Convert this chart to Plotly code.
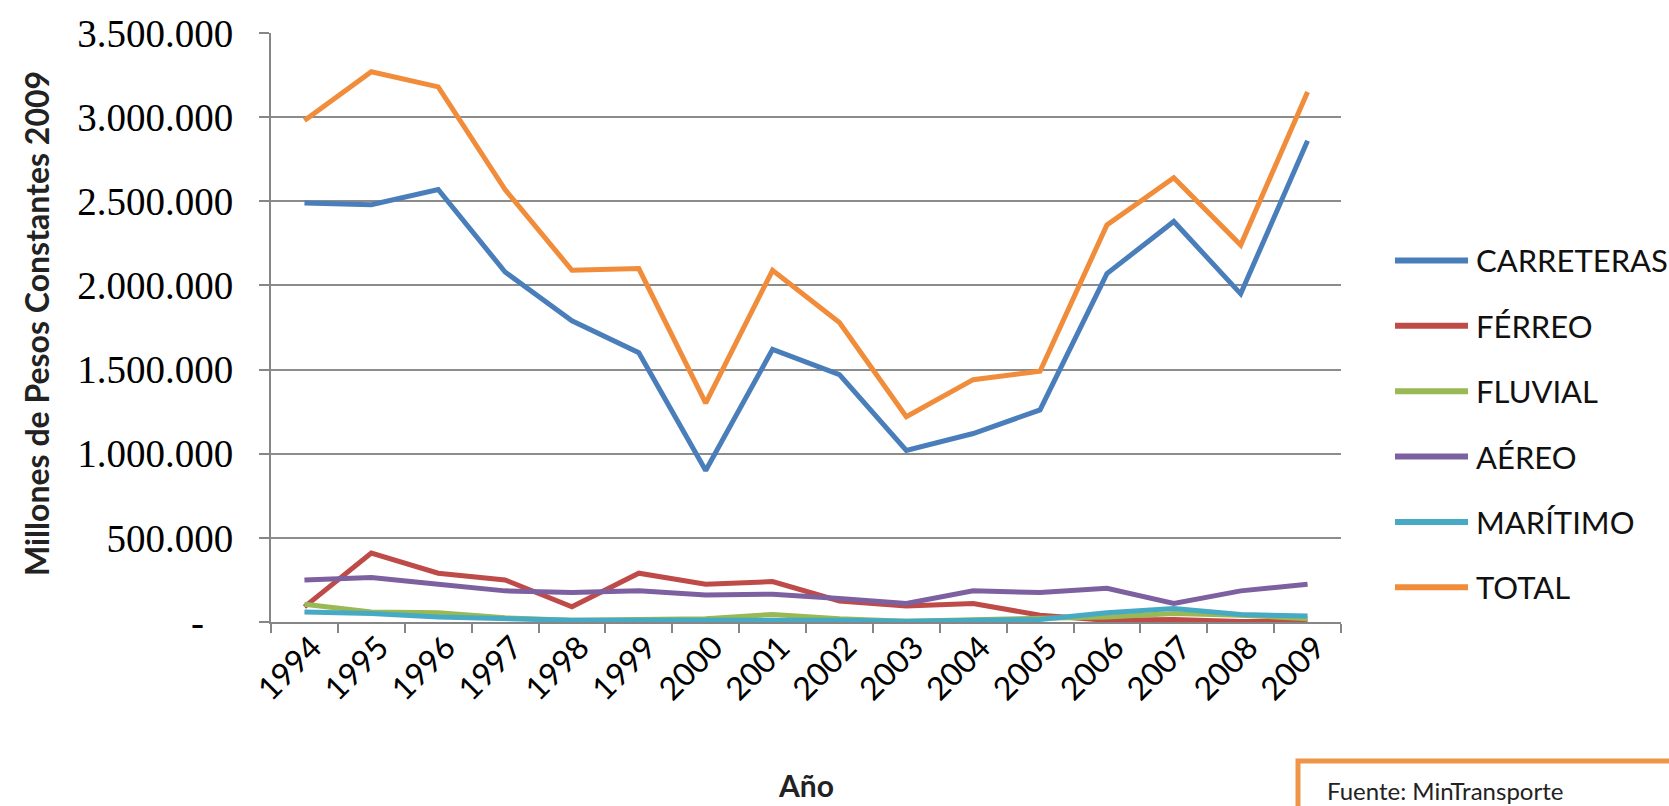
import plotly.graph_objects as go

years = ["1994", "1995", "1996", "1997", "1998", "1999", "2000", "2001",
         "2002", "2003", "2004", "2005", "2006", "2007", "2008", "2009"]

carreteras = [2490000, 2480000, 2570000, 2080000, 1790000, 1600000, 900000, 1620000,
              1470000, 1020000, 1120000, 1260000, 2070000, 2380000, 1950000, 2860000]
ferreo = [90000, 410000, 290000, 250000, 90000, 290000, 225000, 240000,
          125000, 95000, 110000, 40000, 10000, 15000, 3000, 2000]
fluvial = [105000, 60000, 55000, 25000, 10000, 15000, 20000, 45000,
           20000, 5000, 15000, 20000, 30000, 50000, 40000, 20000]
aereo = [250000, 265000, 225000, 185000, 175000, 185000, 160000, 165000,
         140000, 110000, 185000, 175000, 200000, 110000, 185000, 225000]
maritimo = [60000, 50000, 30000, 20000, 10000, 10000, 10000, 15000,
            10000, 5000, 10000, 15000, 55000, 80000, 45000, 35000]
total = [2980000, 3270000, 3180000, 2570000, 2090000, 2100000, 1300000, 2090000,
         1780000, 1220000, 1440000, 1490000, 2360000, 2640000, 2240000, 3150000]

series_names = ["CARRETERAS", "FÉRREO", "FLUVIAL", "AÉREO", "MARÍTIMO", "TOTAL"]
series_values = [carreteras, ferreo, fluvial, aereo, maritimo, total]
series_colors = ["#4A7EBB", "#BE4B48", "#98B954", "#7D60A0", "#46AAC5", "#F08C3A"]

y_tickvals = [0, 500000, 1000000, 1500000, 2000000, 2500000, 3000000, 3500000]
y_ticktext = ["-\u00a0\u00a0\u00a0", "500.000", "1.000.000", "1.500.000", "2.000.000",
              "2.500.000", "3.000.000", "3.500.000"]

W, H = 1669, 806
L, R, T, B = 271, 328, 29, 184
pw = W - L - R
ph = H - T - B


def px_x(x):
    return (x - L) / pw


def px_y(y):
    return (H - B - y) / ph


fig = go.Figure()
for name, vals, col in zip(series_names, series_values, series_colors):
    fig.add_trace(go.Scatter(
        x=years, y=vals, mode="lines", name=name, showlegend=False,
        line=dict(color=col, width=5),
    ))

# legend drawn as paper-space lines + labels
shapes = []
annotations = []
leg_top, leg_gap = 258, 65.8
for i, (name, col) in enumerate(zip(series_names, series_colors)):
    yy = px_y(leg_top + i * leg_gap)
    shapes.append(dict(type="line", xref="paper", yref="paper",
                       x0=px_x(1395), x1=px_x(1468), y0=yy, y1=yy,
                       line=dict(color=col, width=6)))
    annotations.append(dict(text=name, xref="paper", yref="paper",
                            x=px_x(1474), y=yy, showarrow=False,
                            xanchor="left", yanchor="middle",
                            font=dict(family="Lato", size=31, color="#111111")))

annotations += [
    dict(text="<b>Millones de Pesos Constantes 2009</b>", xref="paper", yref="paper",
         x=px_x(36), y=px_y(322), textangle=-90, showarrow=False,
         xanchor="center", yanchor="middle",
         font=dict(family="Lato", size=32, color="#222222")),
    dict(text="<b>Año</b>", xref="paper", yref="paper",
         x=0.5, y=px_y(786), showarrow=False,
         xanchor="center", yanchor="middle",
         font=dict(family="Lato", size=30, color="#222222")),
    dict(text="Fuente: MinTransporte", xref="paper", yref="paper",
         x=px_x(1325), y=px_y(792), showarrow=False,
         xanchor="left", yanchor="middle",
         font=dict(family="Lato", size=24, color="#222222")),
]
shapes.append(dict(type="rect", xref="paper", yref="paper",
                   x0=px_x(1298), x1=px_x(1700), y0=px_y(762), y1=px_y(830),
                   line=dict(color="#EE9548", width=5), fillcolor="rgba(0,0,0,0)"))

fig.update_layout(
    width=W, height=H,
    margin=dict(l=L, r=R, t=T, b=B),
    paper_bgcolor="white", plot_bgcolor="white",
    font=dict(family="Lato", color="#000000"),
    showlegend=False,
    xaxis=dict(
        type="category", range=[-0.5, 15.5],
        showline=True, linecolor="#868686", linewidth=2,
        ticks="outside", ticklen=9, tickcolor="#868686", tickwidth=2,
        tickson="boundaries", tickangle=-45,
        ticklabelstandoff=-8, ticklabelshift=8,
        tickfont=dict(family="Lato", size=32, color="#000000"),
        showgrid=False, zeroline=False,
    ),
    yaxis=dict(
        range=[0, 3500000], tickvals=y_tickvals, ticktext=y_ticktext,
        showline=True, linecolor="#868686", linewidth=2,
        ticks="outside", ticklen=10, tickcolor="#868686", tickwidth=2,
        ticklabelstandoff=18,
        showgrid=True, gridcolor="#8C8C8C", gridwidth=2,
        zeroline=False,
        tickfont=dict(family="Liberation Serif", size=39, color="#000000"),
    ),
    annotations=annotations,
    shapes=shapes,
)

fig.write_html("out.html",
               config={"displayModeBar": False},
               post_script="document.body.style.margin='0';"
                           "document.body.style.overflow='hidden';")
